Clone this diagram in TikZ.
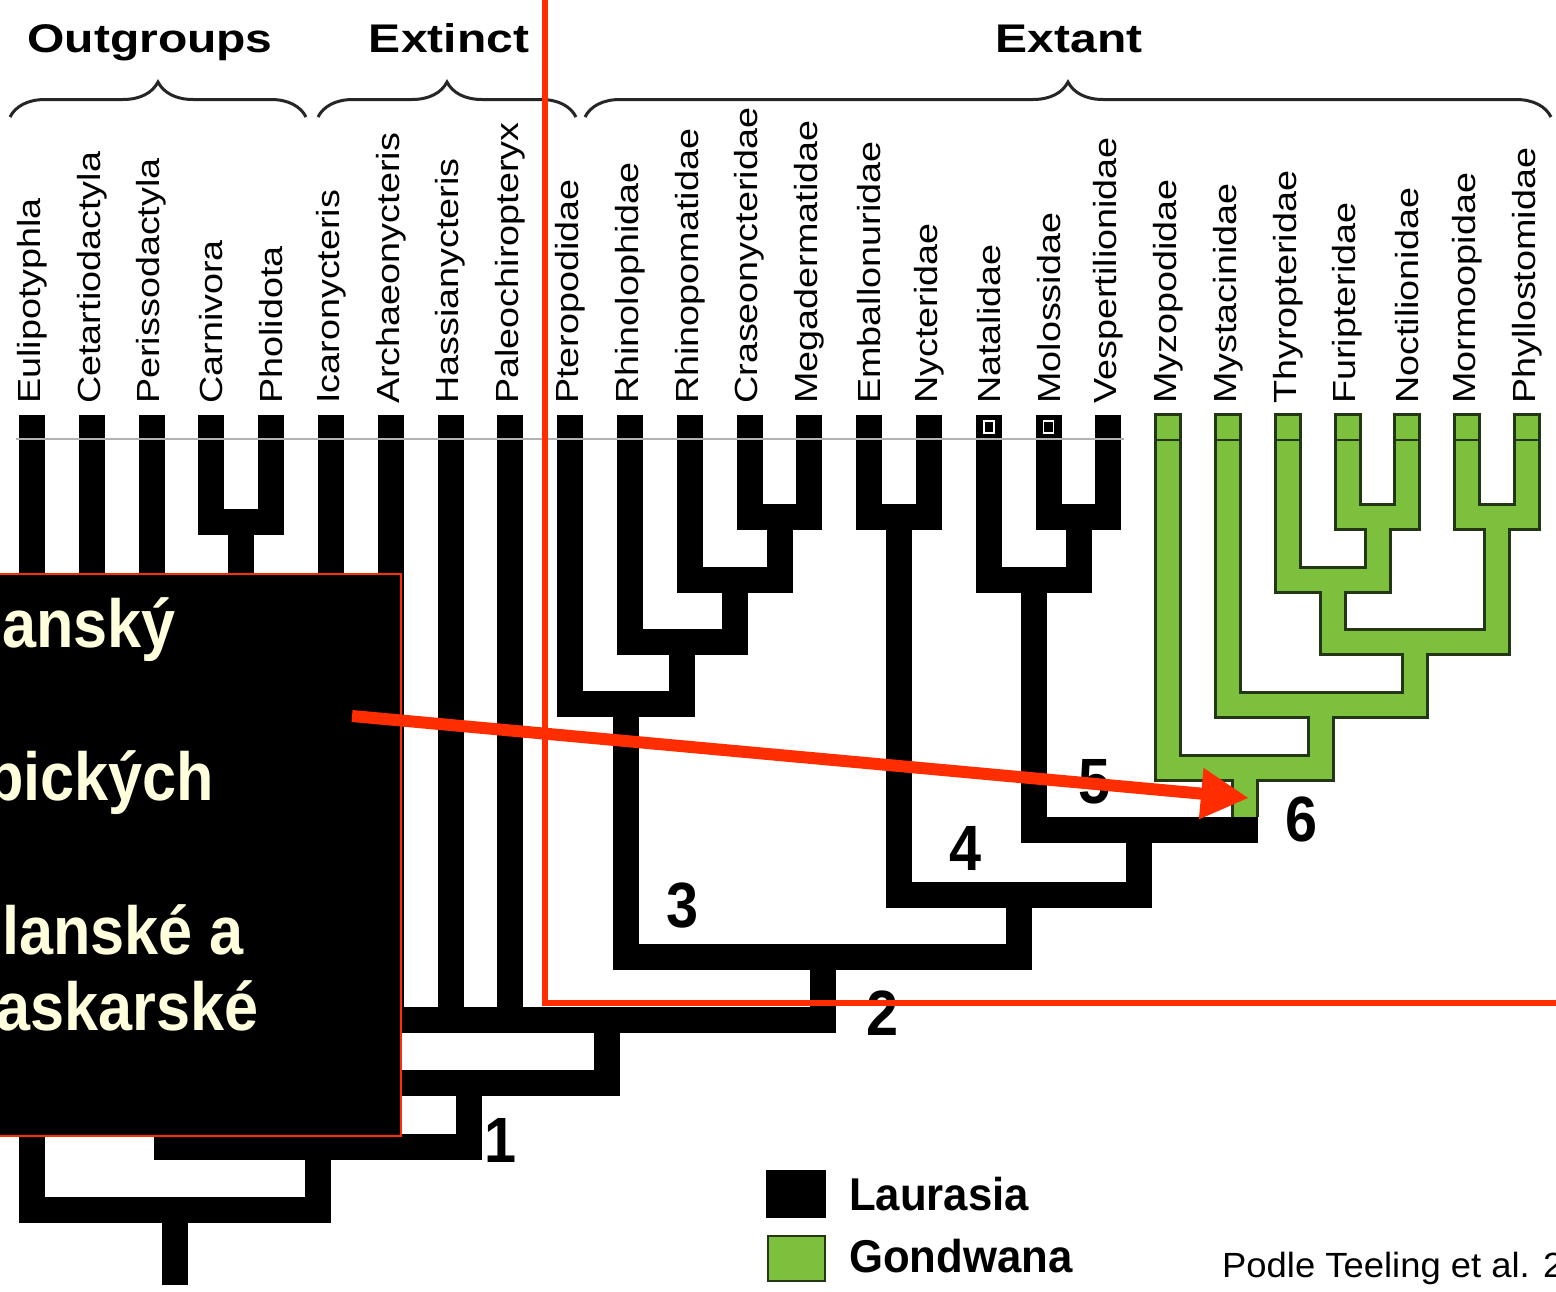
\documentclass[tikz,border=0pt]{standalone}
\usepackage{fontspec}
\setmainfont{Liberation Sans}
\newfontfamily\taxfont[FakeStretch=1.18]{Liberation Sans}
\newfontfamily\headfont[FakeStretch=1.2]{Liberation Sans}
\newfontfamily\boxfont[FakeStretch=0.9]{Liberation Sans}
\newfontfamily\numfont[FakeStretch=0.9]{Liberation Sans}
\newfontfamily\legfont[FakeStretch=0.95]{Liberation Sans}
\newfontfamily\citefont[FakeStretch=1.04]{Liberation Sans}
\usetikzlibrary{arrows.meta,decorations.pathreplacing}
\definecolor{redo}{RGB}{255,45,0}
\definecolor{gond}{RGB}{125,192,62}
\definecolor{gondline}{RGB}{35,55,20}
\definecolor{cream}{RGB}{255,255,222}
\begin{document}
\begin{tikzpicture}[x=1pt,y=-1pt,
  lau/.style={draw=black, line width=26pt, line join=miter, line cap=butt},
  goutl/.style={draw=gondline, line width=28pt, line join=miter, shorten <=-2pt},
  gfill/.style={draw=gond, line width=22pt, line join=miter, shorten <=1pt},
  taxon/.style={rotate=90, anchor=west, inner sep=0pt, font=\taxfont\fontsize{32pt}{32pt}\selectfont},
  head/.style={anchor=base, inner sep=0pt, font=\headfont\bfseries\fontsize{40pt}{40pt}\selectfont},
  brc/.style={draw=black!85, line width=3pt, decorate, decoration={brace, amplitude=35pt}},
  boxtxt/.style={anchor=base west, inner sep=0pt, text=cream, font=\boxfont\bfseries\fontsize{68pt}{68pt}\selectfont},
  num/.style={anchor=center, inner sep=0pt, font=\numfont\bfseries\fontsize{64pt}{64pt}\selectfont},
  leg/.style={anchor=base west, inner sep=0pt, font=\legfont\bfseries\fontsize{46pt}{46pt}\selectfont},
]
\useasboundingbox (0,0) rectangle (1556,1291);
\clip (0,0) rectangle (1556,1291);
\fill[white] (0,0) rectangle (1556,1291);

% tips and labels
\foreach \i/\lab in {1/Eulipotyphla,2/Cetartiodactyla,3/Perissodactyla,4/Carnivora,5/Pholidota,
  6/Icaronycteris,7/Archaeonycteris,8/Hassianycteris,9/Paleochiropteryx,10/Pteropodidae,
  11/Rhinolophidae,12/Rhinopomatidae,13/Craseonycteridae,14/Megadermatidae,15/Emballonuridae,
  16/Nycteridae,17/Natalidae,18/Molossidae,19/Vespertilionidae,20/Myzopodidae,21/Mystacinidae,
  22/Thyropteridae,23/Furipteridae,24/Noctilionidae,25/Mormoopidae,26/Phyllostomidae}{
  \pgfmathsetmacro\xx{32+(\i-1)*59.8}
  \coordinate (t\i) at (\xx,415);
  \node[taxon] (L\i) at (\xx,404) {\lab};
}

% internal nodes
\coordinate (nCP) at (241.3,522);
\coordinate (nF)  at (166.55,900);
\coordinate (nCM) at (779.5,517);
\coordinate (nRp) at (734.65,580);
\coordinate (nRl) at (682.3,642);
\coordinate (nPt) at (626.25,704);
\coordinate (nEN) at (899.1,517);
\coordinate (nMV) at (1078.5,517);
\coordinate (nNa) at (1033.65,580);
\coordinate (nFN) at (1377.5,517);
\coordinate (nTh) at (1332.65,580);
\coordinate (nMP) at (1497.1,517);
\coordinate (nNo) at (1414.9,642);
\coordinate (nMy) at (1321.45,705);
\coordinate (nG)  at (1244.8,768);
\coordinate (nGb) at (1244.8,817);
\coordinate (n5)  at (1139.2,830);
\coordinate (n4)  at (1019.15,895);
\coordinate (n3)  at (822.7,957);
\coordinate (n2a) at (606.75,1020);
\coordinate (nB)  at (468.9,1083);
\coordinate (n1)  at (317.7,1147);
\coordinate (root) at (174.85,1210);
\coordinate (rootEnd) at (174.85,1285);

% Laurasian (black) branches
\foreach \a/\b in {t4/nCP,t5/nCP,t2/nF,t3/nF,nCP/nF,nF/n1,nB/n1,t1/root,n1/root,
  t6/nB,n2a/nB,t7/n2a,t8/n2a,t9/n2a,n3/n2a,nPt/n3,n4/n3,t10/nPt,nRl/nPt,
  t11/nRl,nRp/nRl,t12/nRp,nCM/nRp,t13/nCM,t14/nCM,nEN/n4,n5/n4,t15/nEN,t16/nEN,
  nNa/n5,nGb/n5,t17/nNa,nMV/nNa,t18/nMV,t19/nMV}
  \draw[lau] (\a) |- (\b);
\draw[lau] (root) -- (rootEnd);

% Gondwanan (green) branches
\foreach \a/\b in {t20/nG,nMy/nG,t21/nMy,nNo/nMy,nTh/nNo,nMP/nNo,t22/nTh,nFN/nTh,
  t23/nFN,t24/nFN,t25/nMP,t26/nMP,nG/nGb}
  \draw[goutl] (\a) |- (\b);
\foreach \a/\b in {t20/nG,nMy/nG,t21/nMy,nNo/nMy,nTh/nNo,nMP/nNo,t22/nTh,nFN/nTh,
  t23/nFN,t24/nFN,t25/nMP,t26/nMP,nG/nGb}
  \draw[gfill] (\a) |- (\b);

% tip separators
\draw[gray!60, line width=2pt] (16,439) -- (1124,439);
\foreach \i in {20,...,26}
  \draw[gondline, line width=2.5pt] ([xshift=-13pt,yshift=-25pt]t\i) -- ([xshift=13pt,yshift=-25pt]t\i);
\draw[white, line width=1.5pt] ([xshift=-5pt,yshift=-6pt]t17) rectangle ([xshift=5pt,yshift=-18pt]t17);
\draw[white, line width=1.5pt] ([xshift=-5pt,yshift=-6pt]t18) rectangle ([xshift=5pt,yshift=-18pt]t18);

% headers and braces
\node[head] (hOut) at (150,52) {Outgroups};
\node[head] (hExt) at (449,52) {Extinct};
\node[head] (hExa) at (1069,52) {Extant};
\draw[brc] (10,117) -- (306,117);
\draw[brc] (318,117) -- (576,117);
\draw[brc] (585,117) -- (1551,117);

% node numbers
\node[num] (k1) at (501,1140) {1};
\node[num] (k2) at (883,1013) {2};
\node[num] (k3) at (683,906) {3};
\node[num] (k4) at (966,848) {4};
\node[num] (k5) at (1095,782) {5};
\node[num] (k6) at (1302,819) {6};

% legend
\node[fill=black, minimum width=60pt, minimum height=48pt, inner sep=0pt] (lauK) at (796,1194) {};
\node[fill=gond, draw=gondline, line width=2pt, minimum width=57pt, minimum height=45pt, inner sep=0pt] (gonK) at (796,1258) {};
\node[leg] (lauT) at (849,1210) {Laurasia};
\node[leg] (gonT) at (849,1272) {Gondwana};
\node[anchor=base west, inner sep=0pt, font=\citefont\fontsize{35pt}{35pt}\selectfont] (cite) at (1222,1277) {Podle Teeling et al. 2005};

% black text box
\node[fill=black, draw=redo, line width=2pt, minimum width=420pt, minimum height=562pt, inner sep=0pt, anchor=north east] (box) at (402,573) {};
\node[boxtxt] (bt1) at (2,647) {anský};
\node[boxtxt] (bt2) at (-14,800) {pických};
\node[boxtxt] (bt3) at (2,954) {lanské a};
\node[boxtxt] (bt4) at (-4,1030) {askarské};

% red frame
\coordinate (fTop) at (545,-10);
\coordinate (fCorner) at (545,1003);
\coordinate (fRight) at (1570,1003);
\draw[redo, line width=6pt, line join=miter] (fTop) -- (fCorner) -- (fRight);

% red arrow
\coordinate (arrS) at (352,716);
\coordinate (arrE) at (1249,798);
\draw[redo, line width=12pt, -{Triangle[length=48pt,width=48pt]}] (arrS) -- (arrE);
\end{tikzpicture}
\end{document}
